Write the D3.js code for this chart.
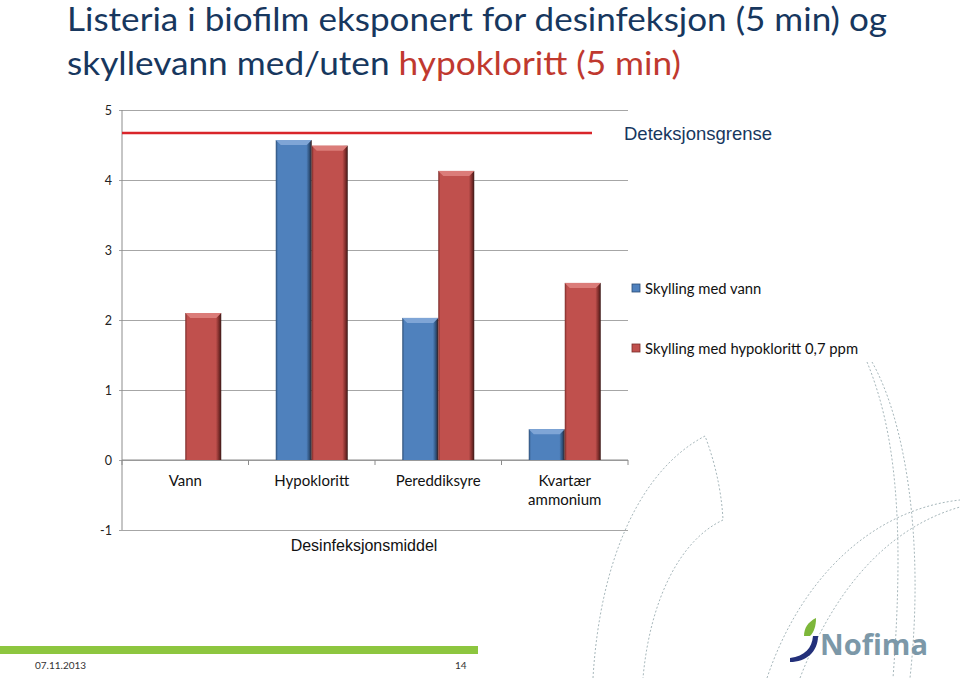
<!DOCTYPE html>
<html>
<head>
<meta charset="utf-8">
<script src="https://cdn.jsdelivr.net/npm/d3@7"></script>
<style>
  body { margin: 0; background: #fff; }
  svg { display: block; }
</style>
</head>
<body>
<script>
// data
const categories = ["Vann", "Hypokloritt", "Pereddiksyre", "Kvartær ammonium"];
const seriesNames = ["Skylling med vann", "Skylling med hypokloritt 0,7 ppm"];
const rinseWater = [0, 4.57, 2.03, 0.44];
const rinseHypo = [2.1, 4.49, 4.13, 2.53];
const yTicks = [-1, 0, 1, 2, 3, 4, 5];
const detectionLimit = 4.67;

const W = 960, H = 678;
const svg = d3.select("body").append("svg").attr("width", W).attr("height", H);
const defs = svg.append("defs");

const colors = ["#4F81BD", "#C0504D"];
const dark = ["#2C4D75", "#7A2B29"];
const light = ["#7FA5D6", "#DB7C79"];

colors.forEach(function (c, i) {
  const g = defs.append("linearGradient").attr("id", "grad" + i)
    .attr("x1", 0).attr("x2", 1).attr("y1", 0).attr("y2", 0);
  g.append("stop").attr("offset", "0%").attr("stop-color", dark[i]);
  g.append("stop").attr("offset", "6%").attr("stop-color", c);
  g.append("stop").attr("offset", "85%").attr("stop-color", c);
  g.append("stop").attr("offset", "94%").attr("stop-color", dark[i]);
  g.append("stop").attr("offset", "100%").attr("stop-color", "#3a1a18");
});

// --- decoration in the background (dashed curves) ---
const deco = svg.append("g").attr("fill", "none").attr("stroke", "#8FA3A8")
  .attr("stroke-width", 0.8).attr("stroke-dasharray", "2,2");
deco.append("path").attr("d", "M593,678 C600,560 640,470 705,436 C718,470 722,500 723,520 C680,540 650,600 643,678");
deco.append("path").attr("d", "M767,678 C800,580 870,510 960,500");
deco.append("path").attr("d", "M800,678 C830,600 880,530 960,507");
deco.append("path").attr("d", "M867,362 C895,430 905,520 893,678");
deco.append("path").attr("d", "M872,362 C905,420 925,540 910,678");

// --- title ---
const title = svg.append("g").attr("font-family", "Lato, 'Open Sans', sans-serif");
title.append("text").attr("x", 67).attr("y", 31).attr("font-size", 32)
  .attr("fill", "#17375E").attr("textLength", 820).attr("lengthAdjust", "spacingAndGlyphs")
  .text("Listeria i biofilm eksponert for desinfeksjon (5 min) og");
const t2 = title.append("text").attr("x", 67).attr("y", 75).attr("font-size", 32)
  .attr("textLength", 614).attr("lengthAdjust", "spacingAndGlyphs");
t2.append("tspan").attr("fill", "#17375E").text("skyllevann med/uten ");
t2.append("tspan").attr("fill", "#C0392F").text("hypokloritt (5 min)");

// --- chart ---
const x = d3.scaleBand().domain(categories).range([122, 628]);
const bw = x.bandwidth();
const x1 = d3.scaleBand().domain([0, 1]).range([(bw - 72) / 2, (bw + 72) / 2]);
const y = d3.scaleLinear().domain([-1, 5]).range([530, 110]);

const chart = svg.append("g").attr("font-family", "Lato, 'Open Sans', sans-serif");

// gridlines + y labels
const yAxis = chart.append("g").attr("transform", "translate(122,0)")
  .call(d3.axisLeft(y).tickValues(yTicks).tickSize(-506).tickSizeOuter(0).tickPadding(10)
    .tickFormat(function (d) { return String(d); }));
yAxis.select(".domain").remove();
yAxis.selectAll(".tick line").attr("stroke", "#A6A6A6").attr("x1", -3);
yAxis.selectAll(".tick text").attr("font-size", 12.5).attr("fill", "#222").attr("font-family", "Lato, sans-serif");
chart.append("line").attr("x1", 122).attr("x2", 122).attr("y1", 110).attr("y2", 530)
  .attr("stroke", "#8C8C8C");

// x axis at zero
chart.append("line").attr("x1", 122).attr("x2", 628).attr("y1", y(0)).attr("y2", y(0))
  .attr("stroke", "#8C8C8C");
const bounds = categories.map(function (c) { return x(c); }).concat([x.range()[1]]);
chart.selectAll(".xtick").data(bounds).enter().append("line")
  .attr("x1", function (d) { return d; }).attr("x2", function (d) { return d; })
  .attr("y1", y(0)).attr("y2", y(0) + 5).attr("stroke", "#8C8C8C");

// category labels
chart.selectAll(".cat").data(categories).enter().append("text")
  .attr("text-anchor", "middle").attr("font-size", 15).attr("fill", "#111")
  .attr("x", function (d) { return x(d) + bw / 2; })
  .attr("y", 486)
  .each(function (d) {
    const parts = d.split(" ");
    const t = d3.select(this);
    parts.forEach(function (p, i) {
      t.append("tspan").attr("x", x(d) + bw / 2).attr("dy", i === 0 ? 0 : 19).text(p);
    });
  });

chart.append("text").attr("x", 364).attr("y", 551).attr("text-anchor", "middle")
  .attr("font-family", "'Liberation Sans', Arial, sans-serif").attr("font-size", 16)
  .attr("fill", "#111").text("Desinfeksjonsmiddel");

// bars
const rows = [];
categories.forEach(function (c, i) {
  rows.push({ cat: c, s: 0, v: rinseWater[i] });
  rows.push({ cat: c, s: 1, v: rinseHypo[i] });
});
const bars = chart.selectAll(".bar").data(rows.filter(function (d) { return d.v > 0; }))
  .enter().append("g");
bars.append("rect")
  .attr("x", function (d) { return x(d.cat) + x1(d.s); })
  .attr("y", function (d) { return y(d.v); })
  .attr("width", x1.bandwidth())
  .attr("height", function (d) { return y(0) - y(d.v); })
  .attr("fill", function (d) { return "url(#grad" + d.s + ")"; });
// top bevel
bars.append("path")
  .attr("d", function (d) {
    const x0 = x(d.cat) + x1(d.s), w = x1.bandwidth(), t = y(d.v);
    return "M" + x0 + "," + t + "L" + (x0 + w) + "," + t + "L" + (x0 + w - 5) + "," + (t + 5) +
      "L" + (x0 + 5) + "," + (t + 5) + "Z";
  })
  .attr("fill", function (d) { return light[d.s]; });

// detection limit line
chart.append("line").attr("x1", 122).attr("x2", 592)
  .attr("y1", y(detectionLimit)).attr("y2", y(detectionLimit))
  .attr("stroke", "#D9252A").attr("stroke-width", 2.5);
chart.append("text").attr("x", 624).attr("y", 140)
  .attr("font-family", "'Liberation Sans', Arial, sans-serif").attr("font-size", 18.5)
  .attr("fill", "#17375E").text("Deteksjonsgrense");

// legend
const legend = chart.selectAll(".leg").data(seriesNames).enter().append("g")
  .attr("transform", function (d, i) { return "translate(632," + (284 + i * 60) + ")"; });
legend.append("rect").attr("width", 8).attr("height", 8)
  .attr("fill", function (d, i) { return colors[i]; })
  .attr("stroke", function (d, i) { return dark[i]; }).attr("stroke-width", 0.8);
legend.append("text").attr("x", 13).attr("y", 9.5).attr("font-size", 14.8).attr("fill", "#111")
  .text(function (d) { return d; });

// footer
svg.append("rect").attr("x", 0).attr("y", 646).attr("width", 478).attr("height", 8).attr("fill", "#8DC63F");
svg.append("text").attr("x", 35).attr("y", 669).attr("font-family", "Lato, sans-serif")
  .attr("font-size", 10).attr("fill", "#333").text("07.11.2013");
svg.append("text").attr("x", 455).attr("y", 669).attr("font-family", "Lato, sans-serif")
  .attr("font-size", 10).attr("fill", "#333").text("14");

// Nofima logo
const logo = svg.append("g");
logo.append("path").attr("d", "M790,658 C805,656 812,648 813,636 L818,636 C818,652 806,662 790,662 Z")
  .attr("fill", "#23307A");
logo.append("path").attr("d", "M804,636 C804,628 808,622 816,618 C816,626 814,632 810,636 Z")
  .attr("fill", "#7DB73A");
logo.append("text").attr("x", 820).attr("y", 655).attr("font-family", "'Open Sans', sans-serif")
  .attr("font-weight", "bold").attr("font-size", 29).attr("fill", "#7C98A8")
  .attr("textLength", 108).attr("lengthAdjust", "spacingAndGlyphs").text("Nofima");
</script>
</body>
</html>
